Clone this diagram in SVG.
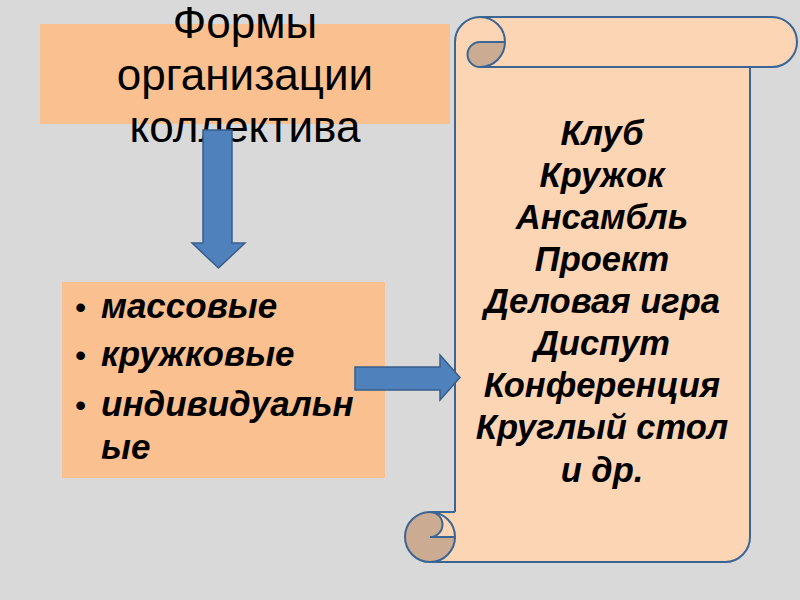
<svg xmlns="http://www.w3.org/2000/svg" width="800" height="600" viewBox="0 0 800 600">
  <style>
    .bg { fill: #d9d9d9; }
    .box { fill: #fac090; }
    .title { font-family: "Liberation Sans", Arial, sans-serif; font-size: 44px; fill: #000; text-anchor: middle; }
    .item { font-family: "Liberation Sans", Arial, sans-serif; font-size: 35px; font-weight: bold; font-style: italic; fill: #000; }
    .bullet { font-family: "Liberation Sans", Arial, sans-serif; font-size: 32px; fill: #000; }
    .scrolltext { font-family: "Liberation Sans", Arial, sans-serif; font-size: 34.5px; font-weight: bold; font-style: italic; fill: #000; text-anchor: middle; }
    .paper { fill: #fcd5b4; }
    .curl { fill: #cbab91; }
    .edge { fill: none; stroke: #3a6594; stroke-width: 2; }
    .arrow { fill: #4f81bd; stroke: #385d8a; stroke-width: 1.5; }
  </style>
  <rect class="bg" x="0" y="0" width="800" height="600"/>

  <g id="title">
    <rect class="box" x="40" y="24" width="410" height="100"/>
    <text class="title" x="245" y="38">Формы</text>
    <text class="title" x="245" y="90">организации</text>
    <text class="title" x="245" y="142">коллектива</text>
  </g>

  <g id="list">
    <rect class="box" x="62" y="282" width="323" height="196"/>
    <text class="bullet" x="75" y="318">•</text>
    <text class="item" x="101" y="318">массовые</text>
    <text class="bullet" x="75" y="366">•</text>
    <text class="item" x="101" y="366">кружковые</text>
    <text class="bullet" x="75" y="416">•</text>
    <text class="item" x="101" y="416">индивидуальн</text>
    <text class="item" x="101" y="459">ые</text>
  </g>

  <g id="scroll">
    <path class="paper" d="M455 42 A25 25 0 0 1 480 17 L772 17 A25 25 0 0 1 772 67 L750 67 L750 537 A25 25 0 0 1 725 562 L430 562 L430 512 L455 512 Z"/>
    <path class="curl" d="M480 42 L505 42 A25 25 0 0 1 480 67 A12.5 12.5 0 0 1 480 42 Z"/>
    <circle class="curl" cx="430" cy="537" r="25"/>
    <path class="paper" d="M430 512 L455 512 L455 537 L430 537 A12.5 12.5 0 0 0 430 512 Z"/>
    <path class="edge" d="M455 512 L455 42 A25 25 0 0 1 480 17 L772 17 A25 25 0 0 1 772 67 L480 67"/>
    <path class="edge" d="M480 17 A25 25 0 0 1 480 67 A12.5 12.5 0 0 1 480 42 L505 42"/>
    <path class="edge" d="M750 67 L750 537 A25 25 0 0 1 725 562 L430 562"/>
    <circle class="edge" cx="430" cy="537" r="25"/>
    <path class="edge" d="M430 512 L455 512 M455 537 L430 537 A12.5 12.5 0 0 0 430 512"/>
    <text class="scrolltext" x="602" y="145">Клуб</text>
    <text class="scrolltext" x="602" y="187">Кружок</text>
    <text class="scrolltext" x="602" y="229">Ансамбль</text>
    <text class="scrolltext" x="602" y="271">Проект</text>
    <text class="scrolltext" x="602" y="313">Деловая игра</text>
    <text class="scrolltext" x="602" y="355">Диспут</text>
    <text class="scrolltext" x="602" y="397">Конференция</text>
    <text class="scrolltext" x="602" y="439">Круглый стол</text>
    <text class="scrolltext" x="602" y="482">и др.</text>
  </g>

  <g id="connectors">
    <path class="arrow" d="M203 130 L232 130 L232 243 L245 243 L218.5 268 L192 243 L203 243 Z"/>
    <path class="arrow" d="M355 367 L440 367 L440 355 L460 377.5 L440 400 L440 390 L355 390 Z"/>
  </g>
</svg>
